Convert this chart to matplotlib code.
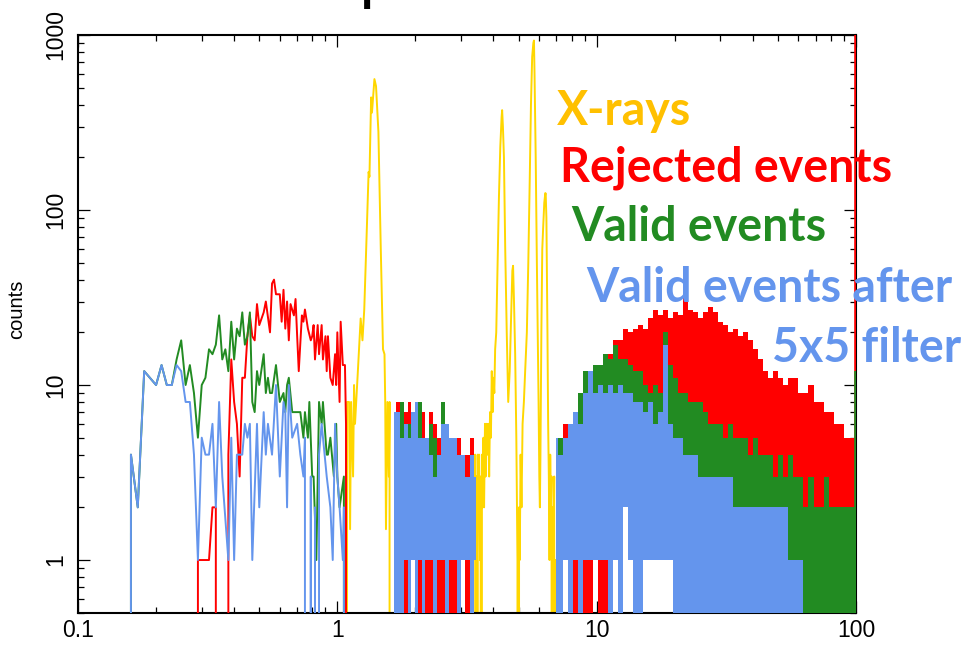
import numpy as np
import matplotlib.pyplot as plt

# X-ray line spectrum (keV, counts)
xray_E = [1.08, 1.09, 1.11, 1.12, 1.13, 1.15, 1.16, 1.17, 1.20, 1.23, 1.25, 1.27, 1.30, 1.32, 1.33,
          1.35, 1.36, 1.39, 1.41, 1.44, 1.47, 1.50, 1.52, 1.53, 1.54, 1.56, 1.58, 1.59, 1.61,
          3.38, 3.40, 3.42, 3.44, 3.46, 3.48, 3.50, 3.52, 3.55, 3.57,
          3.59, 3.61, 3.63, 3.66, 3.68, 3.71, 3.73, 3.76, 3.79, 3.82,
          3.85, 3.88, 3.91, 3.94, 3.97, 4.00, 4.03, 4.06, 4.10, 4.15,
          4.20, 4.25, 4.30, 4.32, 4.35, 4.39, 4.44, 4.50, 4.56, 4.62,
          4.68, 4.73, 4.76, 4.80, 4.85, 4.90, 4.95, 4.98, 5.02, 5.05,
          5.09, 5.13, 5.18, 5.24, 5.30, 5.38, 5.45, 5.52, 5.58, 5.64,
          5.70, 5.73, 5.76, 5.82, 5.88, 5.93, 5.97, 6.01, 6.04, 6.07,
          6.12, 6.17, 6.22, 6.28, 6.34, 6.36, 6.40, 6.46, 6.50, 6.54,
          6.58, 6.62, 6.66, 6.70, 6.74, 6.78, 6.82, 6.86, 6.90, 6.93, 6.95]
xray_c = [0, 8, 8, 1.5, 8, 3, 10, 6, 12, 24, 18, 27, 80, 165, 155,
          440, 360, 560, 510, 280, 62, 16, 15, 8, 1.5, 8, 3, 8, 0,
          0, 4, 1, 3, 0, 4, 2, 4, 1, 3,
          0, 4, 2, 5, 2, 6, 3, 6, 4, 6,
          3, 7, 5, 12, 7, 11, 9, 16, 20, 50,
          120, 230, 340, 372, 300, 200, 60, 20, 8, 12,
          25, 45, 48, 30, 15, 5, 1, 0, 2, 1,
          4, 2, 6, 8, 12, 20, 50, 150, 400, 750,
          900, 930, 600, 200, 50, 18, 8, 3, 2, 4,
          20, 60, 80, 110, 125, 124, 90, 20, 6, 3,
          1, 4, 2, 3, 0, 2, 1, 3, 0, 1, 0]

# low-energy traces
red_E = [0.28, 0.29, 0.32, 0.33, 0.34, 0.35, 0.37, 0.38, 0.39, 0.40,
         0.41, 0.42, 0.43, 0.44, 0.45, 0.46, 0.47, 0.48, 0.49, 0.50,
         0.52, 0.53, 0.55, 0.56, 0.57, 0.58, 0.60, 0.61, 0.62, 0.63,
         0.64, 0.65, 0.66, 0.68, 0.69, 0.70, 0.71, 0.73, 0.74, 0.75,
         0.77, 0.79, 0.80, 0.81, 0.82, 0.84, 0.85, 0.87, 0.88, 0.90,
         0.91, 0.92, 0.94, 0.96, 0.98, 0.99, 1.00, 1.02, 1.03, 1.05,
         1.07, 1.08, 1.09]
red_c = [0, 1, 1, 2, 2, 0, 0, 4, 14, 8,
         6, 3, 11, 11, 19, 25, 19, 18, 29, 22,
         26, 30, 20, 38, 40, 33, 33, 23, 35, 21,
         30, 18, 29, 25, 31, 19, 12, 25, 23, 27,
         21, 18, 19, 22, 14, 22, 15, 22, 14, 19,
         12, 19, 11, 10, 15, 10, 20, 8, 23, 13,
         13, 6, 0]

green_E = [0.15, 0.16, 0.17, 0.18, 0.20, 0.21, 0.22, 0.23, 0.24, 0.25,
           0.26, 0.27, 0.28, 0.29, 0.30, 0.31, 0.32, 0.33, 0.34, 0.35,
           0.36, 0.37, 0.38, 0.39, 0.40, 0.41, 0.42, 0.43, 0.44, 0.45,
           0.46, 0.47, 0.48, 0.49, 0.50, 0.52, 0.53, 0.54, 0.55, 0.56,
           0.58, 0.60, 0.62, 0.63, 0.64, 0.65, 0.67, 0.69, 0.70, 0.72,
           0.74, 0.75, 0.77, 0.78, 0.80, 0.81, 0.83, 0.85, 0.87, 0.88,
           0.91, 0.92, 0.94, 0.97, 0.99, 1.00, 1.02, 1.06, 1.09]
green_c = [0, 4, 2, 12, 10, 13, 10, 10, 14, 18,
           10, 13, 9, 5, 10, 11, 16, 15, 17, 25,
           14, 16, 12, 23, 14, 21, 19, 26, 17, 19,
           26, 8, 7, 12, 10, 15, 9, 11, 9, 9,
           13, 8, 9, 7, 10, 11, 7, 7, 7, 7,
           5, 7, 5, 8, 3, 3, 1, 8, 6, 8,
           4, 4, 5, 3, 6, 3, 2, 3, 0]

blue_E = [0.15, 0.16, 0.17, 0.18, 0.20, 0.21, 0.22, 0.23, 0.24, 0.25,
          0.26, 0.27, 0.28, 0.29, 0.30, 0.31, 0.32, 0.33, 0.34, 0.35,
          0.36, 0.38, 0.39, 0.40, 0.41, 0.43, 0.44, 0.45, 0.46, 0.47,
          0.49, 0.50, 0.52, 0.53, 0.54, 0.56, 0.58, 0.60, 0.62, 0.63,
          0.64, 0.65, 0.67, 0.70, 0.72, 0.74, 0.75, 0.77, 0.79, 0.81,
          0.82, 0.83, 0.85, 0.87, 0.91, 0.94, 0.96, 0.98, 1.00, 1.02,
          1.05, 1.06, 1.09]
blue_c = [0, 4, 2, 12, 10, 13, 10, 10, 13, 12,
          8, 8, 4, 1, 5, 4, 4, 6, 2, 8,
          3, 1, 5, 1, 4, 4, 6, 5, 6, 1,
          6, 2, 7, 4, 6, 4, 10, 3, 8, 7,
          2, 10, 5, 6, 4, 3, 5, 0, 3, 0,
          2, 0, 4, 6, 3, 2, 1, 6, 3, 2,
          1, 2, 0]

# dense parts: min / max of the fast-oscillating traces
mid_E = [1.66, 1.72, 1.78, 1.84, 1.90, 1.96, 2.02, 2.08, 2.15, 2.22, 2.30,
         2.38, 2.46, 2.55, 2.64, 2.74, 2.84, 2.95, 3.06, 3.18, 3.30, 3.42]
red_mid_hi = [6, 8, 8, 7, 8, 5, 7, 8, 7, 5, 7, 6, 5, 4, 5, 5, 4, 5, 3, 4, 5, 3]
red_mid_lo = [1, 0, 1, 0, 0, 1, 0, 0, 1, 0, 0, 1, 0, 0, 1, 0, 0, 0, 1, 0, 0, 1]
green_mid_hi = [5, 7, 8, 5, 6, 5, 6, 8, 5, 4, 6, 5, 4, 8, 5, 4, 4, 3, 4, 3, 3, 2]
green_mid_lo = [1, 1, 1, 1, 1, 1, 1, 1, 1, 1, 1, 1, 1, 1, 1, 1, 1, 1, 1, 1, 1, 1]
blue_mid_hi = [7, 7, 5, 6, 5, 7, 8, 5, 5, 5, 4, 3, 4, 6, 6, 5, 5, 4, 4, 3, 4, 3]
blue_mid_lo = [0, 0, 0, 1, 0, 1, 0, 1, 0, 1, 1, 0, 1, 1, 0, 1, 1, 0, 1, 1, 0, 1]

high_E = [6.95, 7.26, 7.59, 7.94, 8.30, 8.68, 9.07, 9.49, 9.92, 10.37,
          10.84, 11.33, 11.85, 12.39, 12.95, 13.54, 14.15, 14.80, 15.47, 16.17,
          16.91, 17.68, 18.48, 19.32, 20.20, 21.12, 22.08, 23.08, 24.13, 25.23,
          26.37, 27.57, 28.82, 30.13, 31.50, 32.93, 34.43, 35.99, 37.63, 39.34,
          41.12, 42.99, 44.95, 46.99, 49.12, 51.36, 53.69, 56.13, 58.68, 61.35,
          64.13, 67.05, 70.09, 73.28, 76.61, 80.09, 83.73, 87.53, 91.51, 95.67,
          100.0]
red_high_hi = [4, 5, 6, 5, 5, 6, 7, 8, 10, 12,
               13, 15, 18, 18, 21, 20, 21, 22, 21, 24,
               27, 25, 27, 24, 26, 25, 32, 27, 26, 24,
               26, 28, 26, 23, 22, 20, 21, 19, 20, 18,
               16, 14, 12, 11, 12, 11, 10, 11, 11, 9,
               9, 10, 8, 8, 7, 7, 6, 6, 5, 5,
               5]
red_high_lo = [1, 1, 1, 1, 0, 1, 0, 0, 1, 0,
               0, 1, 3, 3, 3, 3, 3, 3, 3, 3,
               3, 3, 3, 3, 3, 3, 3, 3, 3, 3,
               2, 2, 2, 2, 2, 2, 2, 2, 2, 2,
               2, 2, 2, 2, 1, 1, 1, 1, 1, 1,
               1, 1, 1, 1, 1, 1, 1, 1, 1, 1,
               1]
green_high_hi = [5, 5, 5, 6, 7, 9, 12, 10, 13, 13,
                 15, 14, 17, 14, 14, 13, 12, 12, 10, 9,
                 10, 9, 20, 13, 11, 9, 9, 8, 8, 8,
                 7, 6, 6, 6, 5, 6, 5, 5, 5, 4,
                 5, 4, 4, 4, 3, 4, 3, 4, 3, 3,
                 2, 3, 2, 2, 3, 2, 2, 2, 2, 2,
                 2]
green_high_lo = [1, 1, 1, 1, 1, 1, 1, 1, 1, 1,
                 2, 2, 2, 2, 2, 2, 2, 2, 2, 2,
                 2, 2, 2, 2, 2, 2, 2, 2, 2, 2,
                 2, 2, 2, 2, 1, 1, 1, 1, 1, 1,
                 1, 1, 1, 1, 1, 1, 1, 1, 1, 1,
                 0, 0, 0, 0, 0, 0, 0, 0, 0, 0,
                 0]
blue_high_hi = [5, 4, 5, 6, 7, 6, 9, 12, 9, 10,
                9, 10, 9, 10, 9, 9, 8, 8, 7, 8,
                6, 7, 17, 6, 5, 5, 4, 4, 4, 3,
                3, 3, 3, 3, 3, 3, 2, 2, 2, 2,
                2, 2, 2, 2, 2, 2, 2, 1, 1, 1,
                0, 0, 0, 0, 0, 0, 0, 0, 0, 0,
                0]
blue_high_lo = [0, 0, 1, 0, 1, 0, 1, 1, 1, 1,
                1, 0, 1, 0, 2, 1, 0, 0, 1, 1,
                1, 1, 1, 1, 0, 0, 0, 0, 0, 0,
                0, 0, 0, 0, 0, 0, 0, 0, 0, 0,
                0, 0, 0, 0, 0, 0, 0, 0, 0, 0,
                0, 0, 0, 0, 0, 0, 0, 0, 0, 0,
                0]

# overflow bin at the upper edge
edge_E = 100.0
red_edge = 5000
green_edge = 12

x_ticks = [0.1, 1, 10, 100]
x_tick_labels = ['0.1', '1', '10', '100']
y_ticks = [1, 10, 100, 1000]
y_tick_labels = ['1', '10', '100', '1000']

c_xray = '#FFD700'
c_red = '#FF0000'
c_green = '#228B22'
c_blue = '#6495ED'

plt.rcParams['font.family'] = ['Liberation Sans', 'DejaVu Sans']

fig = plt.figure(figsize=[9.64, 6.47], dpi=100)
ax = fig.add_axes([78 / 964, 1 - 612.7 / 647, 778 / 964, 577.7 / 647])
ax.set_xscale('log')
ax.set_yscale('log', nonpositive='clip')

lw = 1.4
ax.plot(xray_E, xray_c, color=c_xray, lw=lw, zorder=2)

ax.plot(red_E, red_c, color=c_red, lw=lw, zorder=3)
ax.fill_between(mid_E, red_mid_lo, red_mid_hi, step='mid', color=c_red, lw=0, zorder=3)
ax.fill_between(high_E, red_high_lo, red_high_hi, step='mid', color=c_red, lw=0, zorder=3)
ax.vlines(edge_E, 0, red_edge, color=c_red, lw=2.6, zorder=3)

ax.plot(green_E, green_c, color=c_green, lw=lw, zorder=4)
ax.fill_between(mid_E, green_mid_lo, green_mid_hi, step='mid', color=c_green, lw=0, zorder=4)
ax.fill_between(high_E, green_high_lo, green_high_hi, step='mid', color=c_green, lw=0, zorder=4)
ax.vlines(edge_E, 0, green_edge, color=c_green, lw=2.6, zorder=4)

ax.plot(blue_E, blue_c, color=c_blue, lw=lw, zorder=5)
ax.fill_between(mid_E, blue_mid_lo, blue_mid_hi, step='mid', color=c_blue, lw=0, zorder=5)
ax.fill_between(high_E, blue_high_lo, blue_high_hi, step='mid', color=c_blue, lw=0, zorder=5)

ax.set_xlim(0.1, 100)
ax.set_ylim(0.5, 1000)
ax.set_xticks(x_ticks, x_tick_labels)
ax.set_yticks(y_ticks, y_tick_labels)
ax.xaxis.set_minor_formatter(plt.NullFormatter())
ax.yaxis.set_minor_formatter(plt.NullFormatter())
ax.tick_params(which='both', direction='in', top=True, right=True, width=0.9,
               labelsize=16.5, color='black')
ax.tick_params(which='major', length=8.6)
ax.tick_params(which='minor', length=4.6)
ax.tick_params(axis='x', pad=4.5)
ax.tick_params(axis='y', pad=8)
plt.setp(ax.get_yticklabels(), rotation=90, va='center')
for s in ax.spines.values():
    s.set_linewidth(1.5)

fig.text(17 / 964, 1 - 309 / 647, 'counts', rotation=90, ha='center', va='center',
         fontsize=14.5)

# cut-off title at the very top
fig.text(360 / 964, 1.0, 'p', fontsize=32, fontweight='bold', va='baseline')

lab = dict(family=['Lato', 'DejaVu Sans'], fontweight='bold', fontsize=33.5, va='baseline')
fig.text(557 / 964, 1 - 125 / 647, 'X-rays', color='#FFC000', **lab)
fig.text(560 / 964, 1 - 182 / 647, 'Rejected events', color=c_red, **lab)
fig.text(571 / 964, 1 - 241 / 647, 'Valid events', color=c_green, **lab)
fig.text(586 / 964, 1 - 302 / 647, 'Valid events after', color=c_blue, **lab)
fig.text(961 / 964, 1 - 362 / 647, '5x5 filter', color=c_blue, ha='right', **lab)

fig.savefig('out.png', dpi=100)
